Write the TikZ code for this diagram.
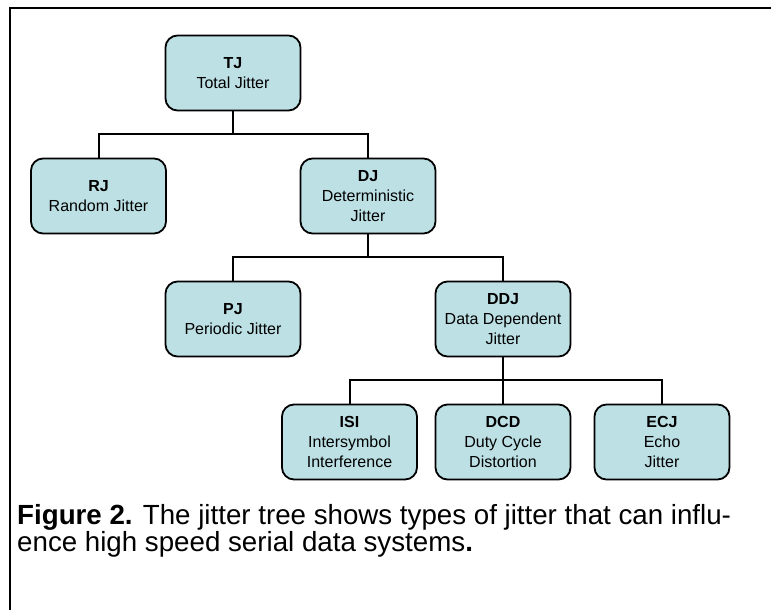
\documentclass[tikz,border=0pt]{standalone}
\usepackage{fontspec}
\setmainfont{Liberation Sans}
\definecolor{boxfill}{RGB}{188,224,228}
\begin{document}
\begin{tikzpicture}[x=1pt,y=-1pt,
  jbox/.style={draw=black, line width=1.8pt, fill=boxfill, rounded corners=12pt,
    minimum width=135pt, minimum height=75pt, inner sep=0pt, align=center,
    font=\fontsize{16}{20}\selectfont},
  conn/.style={draw=black, line width=2pt},
  frameline/.style={draw=black, line width=2.6pt}]
  \useasboundingbox (0,0) rectangle (771,610);

  % frame (top and left edges)
  \coordinate (fTop) at (771,8);
  \coordinate (fCorner) at (10,8);
  \coordinate (fBottom) at (10,610);
  \draw[frameline] (fTop) -- (fCorner) -- (fBottom);

  % bar junctions
  \coordinate (b1) at (233,134);
  \coordinate (b2) at (368,257);
  \coordinate (b3) at (503,380);

  % tree nodes
  \node[jbox] (TJ)  at (233,73)   {\textbf{TJ}\\Total Jitter};
  \node[jbox] (RJ)  at (98.5,196) {\textbf{RJ}\\Random Jitter};
  \node[jbox] (DJ)  at (368,196)  {\textbf{DJ}\\Deterministic\\Jitter};
  \node[jbox] (PJ)  at (233,319)  {\textbf{PJ}\\Periodic Jitter};
  \node[jbox] (DDJ) at (503,319)  {\textbf{DDJ}\\Data Dependent\\Jitter};
  \node[jbox] (ISI) at (349.5,442){\textbf{ISI}\\Intersymbol\\Interference};
  \node[jbox] (DCD) at (503,442)  {\textbf{DCD}\\Duty Cycle\\Distortion};
  \node[jbox] (ECJ) at (662,442)  {\textbf{ECJ}\\Echo\\Jitter};

  % connectors
  \draw[conn] (TJ.south) -- (b1);
  \draw[conn] (RJ.north) |- (b1) -| (DJ.north);
  \draw[conn] (DJ.south) -- (b2);
  \draw[conn] (PJ.north) |- (b2) -| (DDJ.north);
  \draw[conn] (DDJ.south) -- (b3);
  \draw[conn] (ISI.north) |- (b3) -| (ECJ.north);
  \draw[conn] (b3) -- (DCD.north);

  % caption (base anchor sits on the last line)
  \node[anchor=base west, align=left, inner sep=0pt,
        font=\fontsize{27.7}{26.7}\selectfont] (cap) at (17,551)
    {\textbf{Figure 2.} The jitter tree shows types of jitter that can influ-\\
     ence high speed serial data systems\textbf{.}};
\end{tikzpicture}
\end{document}
